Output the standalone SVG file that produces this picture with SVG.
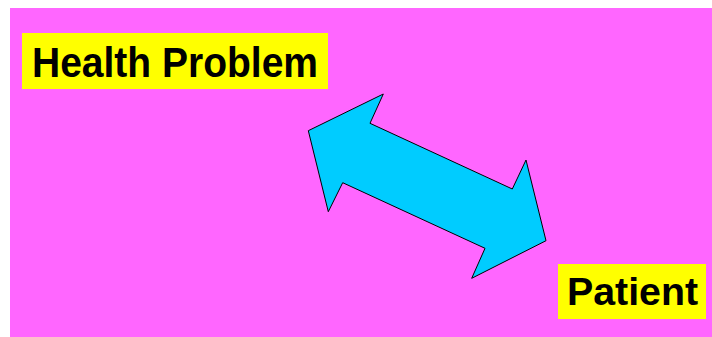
<svg xmlns="http://www.w3.org/2000/svg" width="712" height="337" viewBox="0 0 712 337">
<style>
.lbl{fill:#FFFF00}
.txt{font-family:"Liberation Sans",Arial,sans-serif;font-weight:bold;fill:#000}
</style>
<rect x="0" y="0" width="712" height="337" fill="#FFFFFF"/>
<rect x="10" y="8" width="702" height="329" fill="#FF66FF"/>
<g id="health-problem">
<rect class="lbl" x="22" y="33" width="306" height="56"/>
<text class="txt" x="32" y="77" font-size="42" textLength="286" lengthAdjust="spacingAndGlyphs">Health Problem</text>
</g>
<g id="patient">
<rect class="lbl" x="558" y="264" width="148" height="55"/>
<text class="txt" x="567" y="305" font-size="39" textLength="131" lengthAdjust="spacingAndGlyphs">Patient</text>
</g>
<g id="connectors">
<polygon points="308.3,130.7 383.3,94 370,123.3 512.3,189 526,160 546,240.7 471.7,278.3 485,248.3 342.7,182.7 328.3,211.7" fill="#00CCFF" stroke="#000" stroke-width="1"/>
</g>
</svg>
